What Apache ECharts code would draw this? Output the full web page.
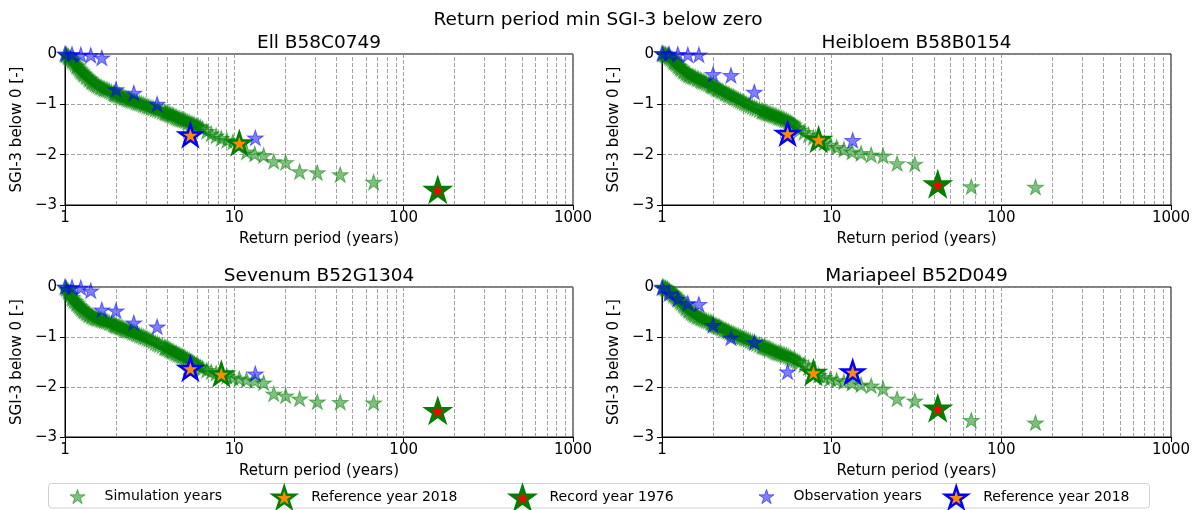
<!DOCTYPE html>
<html>
<head>
<meta charset="utf-8">
<script src="https://cdn.jsdelivr.net/npm/echarts@6/dist/echarts.min.js"></script>
<style>
  html, body { margin: 0; padding: 0; background: #fff; }
  #chart { width: 1196px; height: 510px; }
</style>
</head>
<body>
<div id="chart"></div>
<script>
// ---- data -----------------------------------------------------------------
const siteNames = ['Ell B58C0749', 'Heibloem B58B0154', 'Sevenum B52G1304', 'Mariapeel B52D049'];

// Return periods (years) of the ranked simulated years
const simReturnPeriod = [159, 66.5, 42.2, 30.9, 24.3, 20.1, 17.1, 14.9, 13.2, 11.8,
  10.7, 9.81, 9.04, 8.38, 7.81, 7.31, 6.88,
  6.49, 6.30, 6.14, 5.98, 5.83, 5.69, 5.55, 5.42, 5.29, 5.17,
  5.06, 4.95, 4.85, 4.75, 4.65, 4.56, 4.47, 4.38, 4.30, 4.22,
  4.15, 4.07, 4.00, 3.93, 3.87, 3.75, 3.62, 3.52, 3.41, 3.31,
  3.22, 3.13, 3.05, 2.97, 2.90, 2.83, 2.76, 2.69, 2.63, 2.57,
  2.51, 2.46, 2.41, 2.36, 2.31, 2.26, 2.22, 2.18, 2.14, 2.10,
  2.06, 2.02, 1.99, 1.96, 1.93, 1.88, 1.83, 1.79, 1.75, 1.71,
  1.68, 1.64, 1.61, 1.57, 1.54, 1.51, 1.48, 1.45, 1.43, 1.40,
  1.38, 1.35, 1.33, 1.30, 1.28, 1.26, 1.24, 1.22, 1.20, 1.18,
  1.17, 1.15, 1.13, 1.11, 1.10, 1.08, 1.07, 1.05, 1.04, 1.02,
  1.01];

// Minimum SGI-3 below zero of the simulated years, per site
const simEll = [-2.72, -2.56, -2.41, -2.37, -2.35, -2.17, -2.15, -2.03, -2.00, -1.96,
  -1.79, -1.76, -1.73, -1.69, -1.64, -1.60, -1.55,
  -1.50, -1.47, -1.45, -1.44, -1.42, -1.40, -1.39, -1.37, -1.36, -1.34,
  -1.33, -1.32, -1.31, -1.30, -1.29, -1.27, -1.26, -1.24, -1.23, -1.22,
  -1.21, -1.20, -1.19, -1.18, -1.17, -1.16, -1.14, -1.12, -1.11, -1.09,
  -1.08, -1.06, -1.05, -1.03, -1.02, -1.00, -0.99, -0.98, -0.97, -0.95,
  -0.94, -0.93, -0.92, -0.91, -0.90, -0.88, -0.87, -0.86, -0.85, -0.84,
  -0.83, -0.82, -0.81, -0.80, -0.79, -0.77, -0.75, -0.73, -0.72, -0.71,
  -0.70, -0.68, -0.67, -0.65, -0.63, -0.61, -0.59, -0.57, -0.55, -0.52,
  -0.50, -0.47, -0.45, -0.42, -0.40, -0.37, -0.35, -0.32, -0.29, -0.26,
  -0.24, -0.21, -0.18, -0.15, -0.13, -0.11, -0.09, -0.07, -0.05, -0.03,
  -0.02];
const simHeibloem = [-2.66, -2.65, -2.61, -2.20, -2.19, -2.04, -2.02, -1.99, -1.96, -1.91,
  -1.87, -1.82, -1.78, -1.72, -1.67, -1.62, -1.57,
  -1.52, -1.49, -1.46, -1.42, -1.39, -1.37, -1.35, -1.33, -1.32, -1.30,
  -1.29, -1.28, -1.27, -1.25, -1.24, -1.23, -1.22, -1.21, -1.20, -1.19,
  -1.18, -1.17, -1.16, -1.15, -1.14, -1.12, -1.10, -1.08, -1.06, -1.04,
  -1.02, -1.00, -0.98, -0.96, -0.94, -0.92, -0.90, -0.88, -0.86, -0.85,
  -0.83, -0.82, -0.80, -0.79, -0.77, -0.75, -0.74, -0.72, -0.71, -0.70,
  -0.68, -0.66, -0.65, -0.64, -0.63, -0.61, -0.59, -0.57, -0.56, -0.55,
  -0.53, -0.51, -0.50, -0.48, -0.47, -0.46, -0.45, -0.43, -0.42, -0.40,
  -0.38, -0.36, -0.34, -0.31, -0.29, -0.26, -0.24, -0.21, -0.19, -0.17,
  -0.15, -0.12, -0.10, -0.08, -0.06, -0.05, -0.04, -0.03, -0.02, -0.01,
  -0.01];
const simSevenum = [-2.50, -2.33, -2.32, -2.31, -2.25, -2.19, -2.15, -1.93, -1.89, -1.87,
  -1.85, -1.83, -1.80, -1.76, -1.74, -1.71, -1.68,
  -1.64, -1.62, -1.60, -1.57, -1.55, -1.52, -1.50, -1.48, -1.46, -1.44,
  -1.42, -1.40, -1.39, -1.37, -1.36, -1.34, -1.33, -1.31, -1.30, -1.28,
  -1.27, -1.25, -1.24, -1.23, -1.22, -1.19, -1.17, -1.15, -1.13, -1.10,
  -1.08, -1.06, -1.04, -1.02, -1.01, -0.99, -0.98, -0.96, -0.95, -0.93,
  -0.92, -0.90, -0.89, -0.88, -0.87, -0.86, -0.85, -0.83, -0.82, -0.81,
  -0.80, -0.79, -0.78, -0.77, -0.76, -0.74, -0.73, -0.71, -0.70, -0.69,
  -0.68, -0.67, -0.66, -0.65, -0.64, -0.63, -0.62, -0.60, -0.59, -0.57,
  -0.56, -0.54, -0.52, -0.50, -0.48, -0.45, -0.43, -0.40, -0.38, -0.35,
  -0.33, -0.30, -0.28, -0.25, -0.22, -0.18, -0.15, -0.11, -0.08, -0.05,
  -0.02];
const simMariapeel = [-2.73, -2.68, -2.45, -2.29, -2.25, -2.05, -1.99, -1.97, -1.94, -1.91,
  -1.88, -1.85, -1.82, -1.78, -1.73, -1.63, -1.57,
  -1.52, -1.50, -1.48, -1.46, -1.44, -1.42, -1.40, -1.38, -1.37, -1.36,
  -1.35, -1.34, -1.33, -1.32, -1.31, -1.29, -1.28, -1.26, -1.25, -1.24,
  -1.23, -1.22, -1.21, -1.20, -1.19, -1.17, -1.15, -1.13, -1.11, -1.09,
  -1.07, -1.05, -1.04, -1.02, -1.01, -0.99, -0.98, -0.96, -0.95, -0.93,
  -0.92, -0.90, -0.89, -0.87, -0.86, -0.84, -0.83, -0.81, -0.80, -0.79,
  -0.78, -0.76, -0.75, -0.73, -0.72, -0.70, -0.69, -0.67, -0.66, -0.64,
  -0.63, -0.61, -0.60, -0.58, -0.56, -0.54, -0.52, -0.49, -0.47, -0.44,
  -0.42, -0.39, -0.36, -0.33, -0.30, -0.27, -0.25, -0.22, -0.20, -0.18,
  -0.16, -0.14, -0.12, -0.10, -0.08, -0.06, -0.05, -0.04, -0.03, -0.02,
  -0.01];

// Return periods of the ranked observed years
const obsReturnPeriod = [13.3, 5.5, 3.5, 2.55, 2.0, 1.65, 1.42, 1.24, 1.1, 1.0];
const obsEll = [-1.68, -1.63, -1.01, -0.79, -0.72, -0.09, -0.04, -0.03, -0.02, -0.01];
const obsHeibloem = [-1.73, -1.60, -0.77, -0.44, -0.42, -0.03, -0.03, -0.02, -0.01, 0.0];
const obsSevenum = [-1.75, -1.65, -0.81, -0.73, -0.49, -0.47, -0.09, -0.03, -0.02, -0.01];
const obsMariapeel = [-1.72, -1.71, -1.12, -1.03, -0.78, -0.36, -0.34, -0.25, -0.15, -0.03];

// Highlighted years: [return period, SGI-3]
const refSim2018 = [[10.7, -1.79], [8.38, -1.72], [8.38, -1.76], [7.81, -1.73]];
const record1976 = [[159, -2.72], [42.2, -2.61], [159, -2.50], [42.2, -2.45]];
const refObs2018 = [[5.5, -1.63], [5.5, -1.60], [5.5, -1.65], [13.3, -1.72]];

// Axis ticks
const xMajorTicks = [1, 10, 100, 1000];
const xMinorTicks = [2, 3, 4, 5, 6, 7, 8, 9, 20, 30, 40, 50, 60, 70, 80, 90,
  200, 300, 400, 500, 600, 700, 800, 900];
const yTicks = [-3, -2, -1, 0];

const simValues = [simEll, simHeibloem, simSevenum, simMariapeel];
const obsValues = [obsEll, obsHeibloem, obsSevenum, obsMariapeel];

// ---- styling --------------------------------------------------------------
const FONT = 'DejaVu Sans';
const STAR = 'path://M0,-1L0.2245,-0.309L0.951,-0.309L0.363,0.118L0.588,0.809L0,0.382L-0.588,0.809L-0.363,0.118L-0.951,-0.309L-0.2245,-0.309Z';
const starSize = w => [w, w * 0.951];
const STAR_OFFSET = [0, '-5.3%'];
const GRID_LINE = { type: [4, 2], color: '#8c8c8c', width: 0.8 };

const SIM_STYLE = { color: 'rgba(0,128,0,0.5)', borderColor: 'rgba(0,128,0,0.5)', borderWidth: 1, opacity: 1 };
const REF_SIM_STYLE = { color: '#ff8c00', borderColor: '#008000', borderWidth: 2.5, opacity: 1 };
const RECORD_STYLE = { color: '#ff0000', borderColor: '#008000', borderWidth: 3, opacity: 1 };
const OBS_STYLE = { color: 'rgba(0,0,255,0.5)', borderColor: 'rgba(0,0,255,0.5)', borderWidth: 1, opacity: 1 };
const REF_OBS_STYLE = { color: '#ff8c00', borderColor: '#0000ff', borderWidth: 2.5, opacity: 1 };

const gridBoxes = [
  { left: 65, top: 54, width: 508, height: 151 },
  { left: 662, top: 54, width: 509, height: 151 },
  { left: 65, top: 287, width: 508, height: 150 },
  { left: 662, top: 287, width: 509, height: 150 }
];

const pairs = (xs, ys) => xs.map((x, i) => [x, ys[i]]);

const grid = [], xAxis = [], yAxis = [], series = [], graphic = [];

graphic.push({
  type: 'text', x: 598, y: 20, z: 10,
  style: { text: 'Return period min SGI-3 below zero', font: '18.5px "' + FONT + '"', fill: '#000',
    align: 'center', verticalAlign: 'middle', textAlign: 'center', textVerticalAlign: 'middle' }
});

gridBoxes.forEach((g, i) => {
  grid.push(Object.assign({ show: true, borderColor: '#000', borderWidth: 1, backgroundColor: 'transparent' }, g));

  graphic.push({
    type: 'text', x: g.left + g.width / 2, y: g.top - 11, z: 10,
    style: { text: siteNames[i], font: '18.5px "' + FONT + '"', fill: '#000',
      align: 'center', verticalAlign: 'middle', textAlign: 'center', textVerticalAlign: 'middle' }
  });

  xAxis.push({
    type: 'log', logBase: 10, gridIndex: i, min: xMajorTicks[0], max: xMajorTicks[xMajorTicks.length - 1],
    name: 'Return period (years)', nameLocation: 'middle', nameGap: 27,
    nameTextStyle: { fontFamily: FONT, fontSize: 15, color: '#000' },
    axisLine: { show: true, onZero: false, lineStyle: { color: '#000', width: 1 } },
    axisTick: { show: true, inside: false, length: 5, lineStyle: { color: '#000', width: 1 } },
    axisLabel: { color: '#000', fontFamily: FONT, fontSize: 15, margin: 6, formatter: v => String(v) },
    splitLine: { show: true, lineStyle: GRID_LINE }
  });

  yAxis.push({
    type: 'value', gridIndex: i, min: yTicks[0], max: yTicks[yTicks.length - 1], interval: 1,
    name: 'SGI-3 below 0 [-]', nameLocation: 'middle', nameGap: 40, nameRotate: 90,
    nameTextStyle: { fontFamily: FONT, fontSize: 15, color: '#000' },
    axisLine: { show: true, onZero: false, lineStyle: { color: '#000', width: 1 } },
    axisTick: { show: true, inside: false, length: 5, lineStyle: { color: '#000', width: 1 } },
    axisLabel: { color: '#000', fontFamily: FONT, fontSize: 15, margin: 8,
      formatter: v => (v < 0 ? '\u2212' + Math.abs(v) : String(v)) },
    splitLine: { show: true, lineStyle: GRID_LINE }
  });

  const common = { type: 'scatter', xAxisIndex: i, yAxisIndex: i, symbol: STAR,
    symbolOffset: STAR_OFFSET, silent: true, animation: false };

  series.push(Object.assign({}, common, {
    name: 'sim', z: 2, symbolSize: starSize(16), itemStyle: SIM_STYLE,
    data: pairs(simReturnPeriod, simValues[i]),
    markLine: {
      silent: true, z: 1, symbol: ['none', 'none'], animation: false,
      label: { show: false }, lineStyle: GRID_LINE, emphasis: { disabled: true },
      data: xMinorTicks.map(v => ({ xAxis: v }))
    }
  }));
  series.push(Object.assign({}, common, {
    name: 'refSim', z: 3, symbolSize: starSize(22), itemStyle: REF_SIM_STYLE, data: [refSim2018[i]]
  }));
  series.push(Object.assign({}, common, {
    name: 'record', z: 4, symbolSize: starSize(22), itemStyle: RECORD_STYLE, data: [record1976[i]]
  }));
  series.push(Object.assign({}, common, {
    name: 'obs', z: 5, symbolSize: starSize(16), itemStyle: OBS_STYLE,
    data: pairs(obsReturnPeriod, obsValues[i])
  }));
  series.push(Object.assign({}, common, {
    name: 'refObs', z: 6, symbolSize: starSize(22), itemStyle: REF_OBS_STYLE, data: [refObs2018[i]]
  }));
});

// ---- legend: one component per entry, laid out in a single framed row --------
// The component box starts at the icon's left edge, so place it by icon centre.
const legendEntries = [
  { name: 'sim', label: 'Simulation years', center: 77, size: 15, style: SIM_STYLE },
  { name: 'refSim', label: 'Reference year 2018', center: 283, size: 22, style: REF_SIM_STYLE },
  { name: 'record', label: 'Record year 1976', center: 521, size: 22, style: RECORD_STYLE },
  { name: 'obs', label: 'Observation years', center: 766, size: 15, style: OBS_STYLE },
  { name: 'refObs', label: 'Reference year 2018', center: 955, size: 22, style: REF_OBS_STYLE }
];
const LEGEND_MID = 496;
const ICON_TO_TEXT = 27;
const legend = legendEntries.map(e => {
  const h = e.size * 0.951;
  const w = 2 * (ICON_TO_TEXT - 5);
  return {
    show: true, orient: 'horizontal', padding: 0, selectedMode: false,
    left: e.center - e.size / 2, top: LEGEND_MID - h / 2,
    itemWidth: w, itemHeight: h, symbolKeepAspect: true,
    formatter: e.label,
    textStyle: { color: '#000', fontFamily: FONT, fontSize: 14 },
    data: [{ name: e.name, icon: STAR, itemStyle: e.style }]
  };
});

graphic.push({
  type: 'rect', z: -1, silent: true,
  shape: { x: 48.5, y: 483.5, width: 1101, height: 24.5, r: 3 },
  style: { fill: 'rgba(255,255,255,0.8)', stroke: '#d0d0d0', lineWidth: 1 }
});

const chart = echarts.init(document.getElementById('chart'), null, { renderer: 'canvas' });
chart.setOption({
  animation: false,
  backgroundColor: '#ffffff',
  textStyle: { fontFamily: FONT },
  grid, xAxis, yAxis, series, legend, graphic
});
</script>
</body>
</html>
